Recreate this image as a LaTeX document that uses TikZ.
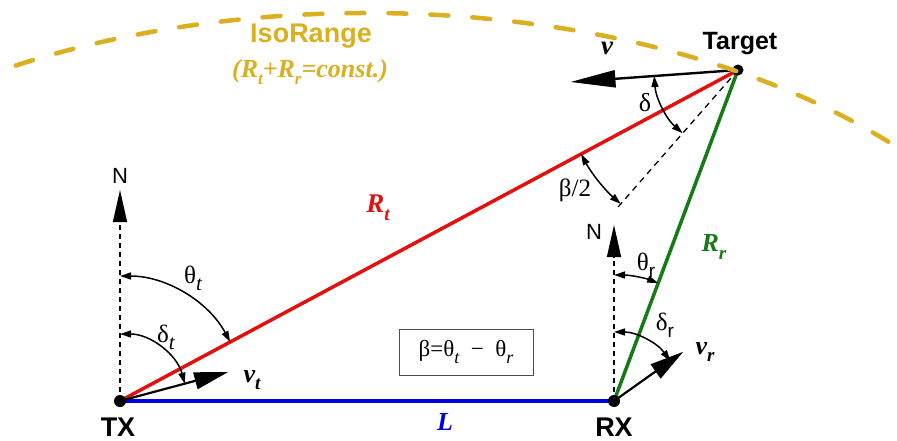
\documentclass[tikz,border=0pt]{standalone}
\usepackage{fontspec}
\setmainfont{Liberation Serif}
\newfontfamily\arialf{Liberation Sans}
\usetikzlibrary{arrows.meta,calc}
\definecolor{gold}{RGB}{218,175,32}
\definecolor{rtred}{RGB}{228,16,16}
\definecolor{rrgreen}{RGB}{22,122,22}
\definecolor{lblue}{RGB}{0,0,222}
\newcommand{\fsz}[1]{\fontsize{#1}{#1}\selectfont}
\newcommand{\lsub}[2]{\raisebox{-0.28em}{\fontsize{#1}{#1}\selectfont #2}}
\begin{document}
\begin{tikzpicture}[x=1pt,y=-1pt,
  lbl/.style={inner sep=0pt, anchor=center},
  dotnode/.style={circle, fill=black, inner sep=0pt, minimum size=12pt},
  baseline/.style={line width=3.5pt},
  bigarrow/.style={line width=2.2pt, -{Triangle[length=34pt,width=17pt]}},
  northarrow/.style={line width=1.3pt, dash pattern=on 5pt off 4pt, -{Triangle[length=32pt,width=14pt]}},
  anglearrow/.style={line width=1.5pt, {Triangle[length=11pt,width=7pt]}-{Triangle[length=11pt,width=7pt]}},
  helperdash/.style={line width=1.3pt, dash pattern=on 6pt off 5pt},
  isorange/.style={gold, line width=4.5pt, line cap=round, dash pattern=on 18pt off 24pt},
]
\useasboundingbox (0,0) rectangle (897,441);
\fill[white] (0,0) rectangle (897,441);

% key points
\coordinate (tx) at (120,401);
\coordinate (rx) at (614,401);
\coordinate (tg) at (738,70);
\coordinate (txN) at ($(tx)+(-90:211)$);
\coordinate (rxN) at ($(rx)+(-90:176)$);
\coordinate (vtT) at ($(tx)+(-15:112)$);
\coordinate (vrT) at ($(rx)+(-35.4:85)$);
\coordinate (vT) at ($(tg)+(175.9:168)$);
\coordinate (bis) at ($(tg)+(131.2:185)$);

% north arrows
\draw[northarrow] (tx) -- (txN);
\draw[northarrow] (rx) -- (rxN);

% main lines
\draw[baseline, lblue] (tx) -- (rx);
\draw[baseline, rtred] (tx) -- (tg);
\draw[baseline, rrgreen] (rx) -- (tg);

% bisector
\draw[helperdash] (tg) -- (bis);

% velocity arrows
\draw[bigarrow] (tx) -- (vtT);
\draw[bigarrow] (rx) -- (vrT);
\draw[line width=2.4pt, -{Triangle[length=45pt,width=17pt]}] (tg) -- (vT);

% angle arcs
\draw[anglearrow] ($(tx)+(-90:125)$) arc[start angle=-90, end angle=-28.18, radius=125];
\draw[anglearrow] ($(tx)+(-90:67)$) arc[start angle=-90, end angle=-15, radius=67];
\draw[anglearrow] ($(rx)+(-90:126)$) arc[start angle=-90, end angle=-69.46, radius=126];
\draw[anglearrow] ($(rx)+(-90:69)$) arc[start angle=-90, end angle=-35.4, radius=69];
\draw[anglearrow] ($(tg)+(175.9:84)$) arc[start angle=175.9, end angle=131.2, radius=84];
\draw[anglearrow] ($(tg)+(151.8:178)$) arc[start angle=151.8, end angle=131.2, radius=178];

% dots
\node[dotnode] (TX) at (tx) {};
\node[dotnode] (RX) at (rx) {};
\node[dotnode, minimum size=11pt] (TG) at (tg) {};

% isorange curve
\begin{scope}
\clip (0,0) rectangle (897,441);
\draw[isorange] ($(367.5,401)+(-124:700 and 388)$) arc[start angle=-124, end angle=-38, x radius=700, y radius=388];
\end{scope}

% labels
\node[lbl] (lTX) at (118,427) {\arialf\bfseries\fsz{27}TX};
\node[lbl] (lRX) at (614,427) {\arialf\bfseries\fsz{27}RX};
\node[lbl] (lTG) at (740,44) {\arialf\bfseries\fsz{25}Target};
\node[lbl] (lN1) at (120,176) {\arialf\fsz{22}N};
\node[lbl] (lN2) at (594,232) {\arialf\fsz{22}N};
\node[lbl] (lIso) at (311,36) {\arialf\bfseries\fsz{27}\color{gold}IsoRange};
\node[lbl] (lIso2) at (310,72) {\color{gold}\bfseries\itshape\fsz{26}(R\lsub{17}{t}+R\lsub{17}{r}=const.)};
\node[lbl] (lv) at (607,48) {\bfseries\itshape\fsz{27}v};
\node[lbl] (ld) at (645,103) {\fsz{26}δ};
\node[lbl] (lb2) at (575,190) {\fsz{25}β/2};
\node[lbl] (lRt) at (378,208) {\color{rtred}\bfseries\itshape\fsz{27}R\lsub{19}{t}};
\node[lbl] (lRr) at (714,247) {\color{rrgreen}\bfseries\itshape\fsz{26}R\lsub{19}{r}};
\node[lbl] (lL) at (445,422) {\color{lblue}\bfseries\itshape\fsz{26}L};
\node[lbl] (lth) at (193,278) {\fsz{25}θ\lsub{21}{\itshape t}};
\node[lbl] (ldt) at (166,337) {\fsz{25}δ\lsub{21}{\itshape t}};
\node[lbl] (lvt) at (252,380) {\bfseries\itshape\fsz{26}v\lsub{19}{t}};
\node[lbl] (lthr) at (646,265) {\fsz{25}θ\lsub{19}{\arialf r}};
\node[lbl] (ldr) at (665,325) {\fsz{25}δ\lsub{19}{\arialf r}};
\node[lbl] (lvr) at (705,352) {\bfseries\itshape\fsz{26}v\lsub{19}{r}};
\node[draw=black!70, line width=0.8pt, minimum width=134pt, minimum height=46pt, inner sep=0pt] (box) at (466,352)
  {\fsz{23}β=θ\lsub{18}{\itshape t}\enspace−\enspace θ\lsub{18}{\itshape r}};
\end{tikzpicture}
\end{document}
